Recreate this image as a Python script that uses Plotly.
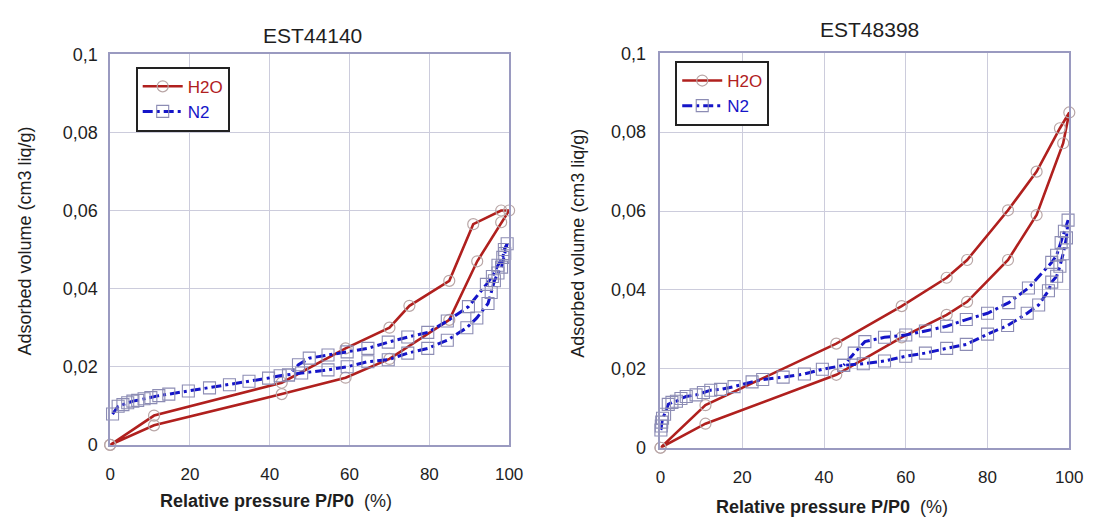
import plotly.graph_objects as go

# ---------------- data ----------------
# EST44140 (left)
h2o_L_x = [0, 11, 43, 59, 70, 85, 92, 98, 100, 98, 91, 85, 75, 70, 59, 43, 11, 0]
h2o_L_y = [0, 0.005, 0.013, 0.0172, 0.022, 0.032, 0.047, 0.057, 0.060,
           0.060, 0.0565, 0.042, 0.0356, 0.030, 0.0247, 0.0159, 0.0075, 0]

n2_L_x = [0.6, 2, 3.2, 4.4, 5.7, 6.9, 8.5, 10.2, 12.2, 14.7, 19.6, 24.9, 29.9, 34.8,
          39.7, 42.6, 44.7, 48, 54.6, 59.4, 64.6, 69.7, 74.6, 79.6, 84.5, 89.4, 91.9,
          94.7, 95.5, 96.3, 97.2, 98.1, 98.9, 99.5,
          98.8, 98.4, 97.2, 95.8, 94.3, 89.8, 84.5, 79.6, 74.6, 69.7, 64.6, 59.4,
          54.6, 49.9, 47.2, 44.7]
n2_L_y = [0.0079, 0.0099, 0.0103, 0.0108, 0.0112, 0.0114, 0.0118, 0.0121, 0.0126,
          0.0130, 0.0138, 0.0146, 0.0154, 0.0163, 0.0171, 0.0177, 0.0179, 0.0184,
          0.0192, 0.0200, 0.0213, 0.0218, 0.0235, 0.0247, 0.0268, 0.0300, 0.0325,
          0.0362, 0.0390, 0.0420, 0.0440, 0.0455, 0.0490, 0.0515,
          0.0500, 0.0480, 0.0460, 0.0431, 0.0411, 0.0354, 0.0317, 0.0288, 0.0276,
          0.0263, 0.0247, 0.0238, 0.0230, 0.0222, 0.0205, 0.0179]

# EST48398 (right)
h2o_R_x = [0, 11, 43, 59, 70, 75, 85, 92, 98.5, 100, 97.7, 92, 85, 75, 70, 59, 43, 11, 0]
h2o_R_y = [0, 0.0061, 0.0185, 0.028, 0.0337, 0.037, 0.0476, 0.059, 0.0772, 0.085,
           0.081, 0.070, 0.0602, 0.0476, 0.0431, 0.0359, 0.0264, 0.0108, 0]

n2_R_x = [0.1, 0.2, 0.3, 0.5, 1, 1.9, 2.8, 3.9, 5, 6.3, 8.7, 10.5, 12.3, 14.7, 18,
          22.4, 25, 30, 35.2, 39.6, 44.8, 49.6, 54.8, 60, 64.8, 70, 74.8, 80, 84.9,
          89.7, 92.5, 94.9, 95.7, 96.9, 97.7, 98.5, 99.3, 99.7,
          98.8, 98, 96.9, 95.7, 90, 85.2, 80, 74.8, 70, 64.8, 60, 54.8, 50, 47.4, 44.8]
n2_R_y = [0.0045, 0.0055, 0.0065, 0.0075, 0.0085, 0.011, 0.0115, 0.0118, 0.0125,
          0.013, 0.0134, 0.014, 0.0146, 0.0148, 0.0155, 0.0167, 0.0173, 0.0179,
          0.0187, 0.0199, 0.0209, 0.0213, 0.0220, 0.0232, 0.0240, 0.0252, 0.0262,
          0.0288, 0.0310, 0.0341, 0.0362, 0.0398, 0.042, 0.0435, 0.046, 0.0492,
          0.0532, 0.0577,
          0.0549, 0.052, 0.0488, 0.047, 0.0405, 0.0368, 0.0341, 0.0325, 0.0308,
          0.0296, 0.0286, 0.0280, 0.0269, 0.0240, 0.0209]

titles = ["EST44140", "EST48398"]
x_ticks = [0, 20, 40, 60, 80, 100]
y_ticks = [0, 0.02, 0.04, 0.06, 0.08, 0.1]

# ---------------- styles ----------------
W, H = 1101, 528
RED = "#b0201e"
BLUE = "#1515c8"
CIRC = "#b9a6a6"
SQ = "#8c8cb4"
FONT = "Liberation Sans, Arial, sans-serif"
TXT = "#1e1e1e"


def px_x(p):
    return p / W


def px_y(p):
    return (H - p) / H


fig = go.Figure()

sets = [
    (h2o_L_x, h2o_L_y, n2_L_x, n2_L_y, "x", "y", "legend"),
    (h2o_R_x, h2o_R_y, n2_R_x, n2_R_y, "x2", "y2", "legend2"),
]
for hx, hy, nx, ny, xa, ya, lg in sets:
    fig.add_trace(go.Scatter(
        x=hx, y=hy, mode="lines+markers", xaxis=xa, yaxis=ya, legend=lg,
        name="<span style='color:%s'>H2O</span>" % RED,
        line=dict(color=RED, width=2.6),
        marker=dict(symbol="circle-open", size=11, color=CIRC, line=dict(width=1.2)),
        cliponaxis=False,
    ))
    fig.add_trace(go.Scatter(
        x=nx, y=ny, mode="lines+markers", xaxis=xa, yaxis=ya, legend=lg,
        name="<span style='color:%s'>N2</span>" % BLUE,
        line=dict(color=BLUE, width=3, dash="10px,4px,3px,4px"),
        marker=dict(symbol="square-open", size=12, color=SQ, line=dict(width=1.1)),
        cliponaxis=False,
    ))

axis_common = dict(
    showgrid=True, gridcolor="#ccccdc", gridwidth=1,
    showline=True, linecolor="#9a9ac0", linewidth=1.5, mirror=True,
    zeroline=False, ticks="",
)
xfont = dict(family=FONT, size=17, color=TXT)
yfont = dict(family=FONT, size=18, color=TXT)

# pixel boxes of the two plot areas
boxL = (107, 513, 46, 452)
boxR = (667, 1083, 45, 455)

leg_common = dict(xanchor="left", yanchor="top", bordercolor="#222", borderwidth=2,
                  bgcolor="white", font=dict(family=FONT, size=17),
                  tracegroupgap=0, itemwidth=40)

fig.update_layout(
    width=W, height=H,
    margin=dict(l=0, r=0, t=0, b=0),
    paper_bgcolor="white", plot_bgcolor="white",
    separators=", ",
    font=dict(family=FONT, color=TXT),
    xaxis=dict(domain=[px_x(boxL[0]), px_x(boxL[1])], range=[0, 100],
               tickvals=x_ticks, anchor="y", tickfont=xfont, ticklabelstandoff=13,
               **axis_common),
    yaxis=dict(domain=[px_y(boxL[3]), px_y(boxL[2])], range=[0, 0.1],
               tickvals=y_ticks, anchor="x", tickfont=yfont, ticklabelstandoff=7,
               **axis_common),
    xaxis2=dict(domain=[px_x(boxR[0]), px_x(boxR[1])], range=[0, 100],
                tickvals=x_ticks, anchor="y2", tickfont=xfont, ticklabelstandoff=13,
                **axis_common),
    yaxis2=dict(domain=[px_y(boxR[3]), px_y(boxR[2])], range=[0, 0.1],
                tickvals=y_ticks, anchor="x2", tickfont=yfont, ticklabelstandoff=9,
                **axis_common),
    legend=dict(x=px_x(133), y=px_y(59), **leg_common),
    legend2=dict(x=px_x(682), y=px_y(53), **leg_common),
    showlegend=True,
)

ann = []
tfont = dict(family=FONT, size=21, color=TXT)
afont = dict(family=FONT, size=18, color=TXT)


def add_text(text, x, y, font, angle=0):
    ann.append(dict(text=text, x=px_x(x), y=px_y(y), xref="paper", yref="paper",
                    xanchor="center", yanchor="middle", showarrow=False,
                    textangle=angle, font=font))


add_text(titles[0], 313, 26, tfont)
add_text(titles[1], 880, 20, tfont)
xt = "<b>Relative pressure P/P0</b>  (%)"
add_text(xt, 276, 510, afont)
add_text(xt, 842, 517, afont)
yt = "Adsorbed volume (cm3 liq/g)"
add_text(yt, 20, 240, afont, -90)
add_text(yt, 583, 242, afont, -90)
fig.update_layout(annotations=ann)

fig.write_html("out.html")
